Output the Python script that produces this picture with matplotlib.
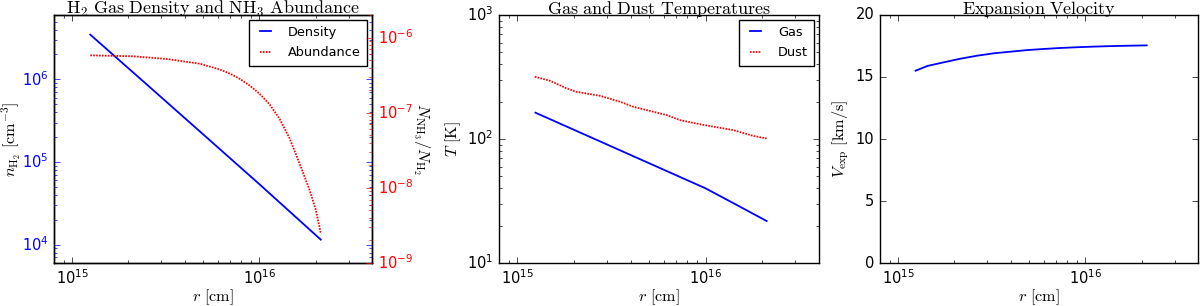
import numpy as np
import matplotlib
matplotlib.use("Agg")
import matplotlib.pyplot as plt

plt.style.use('classic')
plt.rcParams['font.family'] = ['DejaVu Sans']
plt.rcParams['mathtext.fontset'] = 'cm'
plt.rcParams['font.size'] = 10.5
plt.rcParams['savefig.facecolor'] = 'white'
plt.rcParams['figure.facecolor'] = 'white'

# ---------------- data ----------------
# Panel 1: H2 density (power law) and NH3 abundance
r_dens = [1.25e15, 2.5e15, 5e15, 1e16, 2.13e16]
n_h2 = [3.47e6, 8.7e5, 2.17e5, 5.4e4, 1.15e4]

r_abund = [1.25e15, 2.12e15, 3.19e15, 4.80e15, 6.12e15, 7.0e15, 7.83e15, 8.85e15,
           1.0e16, 1.13e16, 1.28e16, 1.45e16, 1.63e16, 1.85e16, 2.0e16, 2.13e16]
abund = [5.81e-7, 5.64e-7, 5.20e-7, 4.50e-7, 3.78e-7, 3.30e-7, 2.84e-7, 2.32e-7,
         1.80e-7, 1.31e-7, 8.4e-8, 4.6e-8, 2.2e-8, 9.6e-9, 5.2e-9, 2.5e-9]

# Panel 2: gas and dust temperatures
r_gas = [1.25e15, 2.75e15, 5.0e15, 1.0e16, 1.5e16, 2.11e16]
t_gas = [163, 95.7, 63.9, 40.0, 28.8, 21.8]

r_dust = [1.24e15, 1.49e15, 1.83e15, 2.07e15, 2.75e15, 3.51e15, 4.13e15,
          6.21e15, 7.31e15, 9.33e15, 1.40e16, 1.79e16, 2.11e16]
t_dust = [318, 295, 256, 240, 223, 200, 182, 156, 142, 131.5, 118, 106, 101]

# Panel 3: expansion velocity
r_vel = [1.24e15, 1.435e15, 1.76e15, 2.16e15, 2.65e15, 3.24e15, 3.98e15, 4.89e15,
         6.0e15, 7.36e15, 9.04e15, 1.107e16, 1.36e16, 1.667e16, 2.13e16]
v_exp = [15.51, 15.89, 16.19, 16.48, 16.72, 16.91, 17.04, 17.17,
         17.26, 17.34, 17.40, 17.45, 17.49, 17.52, 17.55]

# ---------------- figure ----------------
fig = plt.figure(figsize=(12, 3.06), dpi=100)
bottom, height = 0.1405, 0.8105
ax1 = fig.add_axes([0.045, bottom, 0.265, height])
ax2 = fig.add_axes([0.4158, bottom, 0.2667, height])
ax3 = fig.add_axes([0.7333, bottom, 0.265, height])

xlim = (8e14, 4e16)
dotted = (0, (1.2, 0.9))
title_fs = 13
label_fs = 11.7
lw = 1.3
leg_kw = dict(loc='upper right', fontsize=9.3, handlelength=1.5, handletextpad=1.0,
              borderpad=0.5, labelspacing=0.55, fancybox=False, borderaxespad=0.35)

# Panel 1
l1, = ax1.loglog(r_dens, n_h2, color='b', lw=lw, label='Density')
ax1.set_xlim(*xlim)
ax1.set_ylim(6e3, 6e6)
ax1.set_ylabel(r'$n_{\mathrm{H_2}}\ [\mathrm{cm^{-3}}]$', fontsize=label_fs, labelpad=-1)
ax1.set_xlabel(r'$r\ [\mathrm{cm}]$', fontsize=label_fs, labelpad=0)
ax1.tick_params(axis='y', which='both', colors='b')
ax1.set_title(r'$\mathrm{H_2\ Gas\ Density\ and\ NH_3\ Abundance}$', fontsize=title_fs, pad=1)
ax1b = ax1.twinx()
l2, = ax1b.loglog(r_abund, abund, color='r', lw=lw, linestyle=dotted, label='Abundance')
ax1b.set_xlim(*xlim)
ax1b.set_ylim(1e-9, 2e-6)
ax1b.tick_params(axis='y', which='both', colors='r')
ax1b.set_ylabel(r'$N_{\mathrm{NH_3}}/N_{\mathrm{H_2}}$', fontsize=label_fs, rotation=270, labelpad=14)
ax1.tick_params(axis='y', which='both', right=True)
ax1.legend([l1, l2], ['Density', 'Abundance'], **leg_kw)

# Panel 2
ax2.loglog(r_gas, t_gas, color='b', lw=lw, label='Gas')
ax2.loglog(r_dust, t_dust, color='r', lw=lw, linestyle=dotted, label='Dust')
ax2.set_xlim(*xlim)
ax2.set_ylim(10, 1000)
ax2.set_ylabel(r'$T\ [\mathrm{K}]$', fontsize=label_fs, labelpad=3)
ax2.set_xlabel(r'$r\ [\mathrm{cm}]$', fontsize=label_fs, labelpad=0)
ax2.set_title(r'$\mathrm{Gas\ and\ Dust\ Temperatures}$', fontsize=title_fs, pad=1)
ax2.legend(**leg_kw)

# Panel 3
ax3.semilogx(r_vel, v_exp, color='b', lw=lw)
ax3.set_xlim(*xlim)
ax3.set_ylim(0, 20)
ax3.set_yticks([0, 5, 10, 15, 20])
ax3.set_ylabel(r'$V_{\mathrm{exp}}\ [\mathrm{km/s}]$', fontsize=label_fs, labelpad=3)
ax3.set_xlabel(r'$r\ [\mathrm{cm}]$', fontsize=label_fs, labelpad=0)
ax3.set_title(r'$\mathrm{Expansion\ Velocity}$', fontsize=title_fs, pad=1)

fig.savefig('out.png', dpi=100)
